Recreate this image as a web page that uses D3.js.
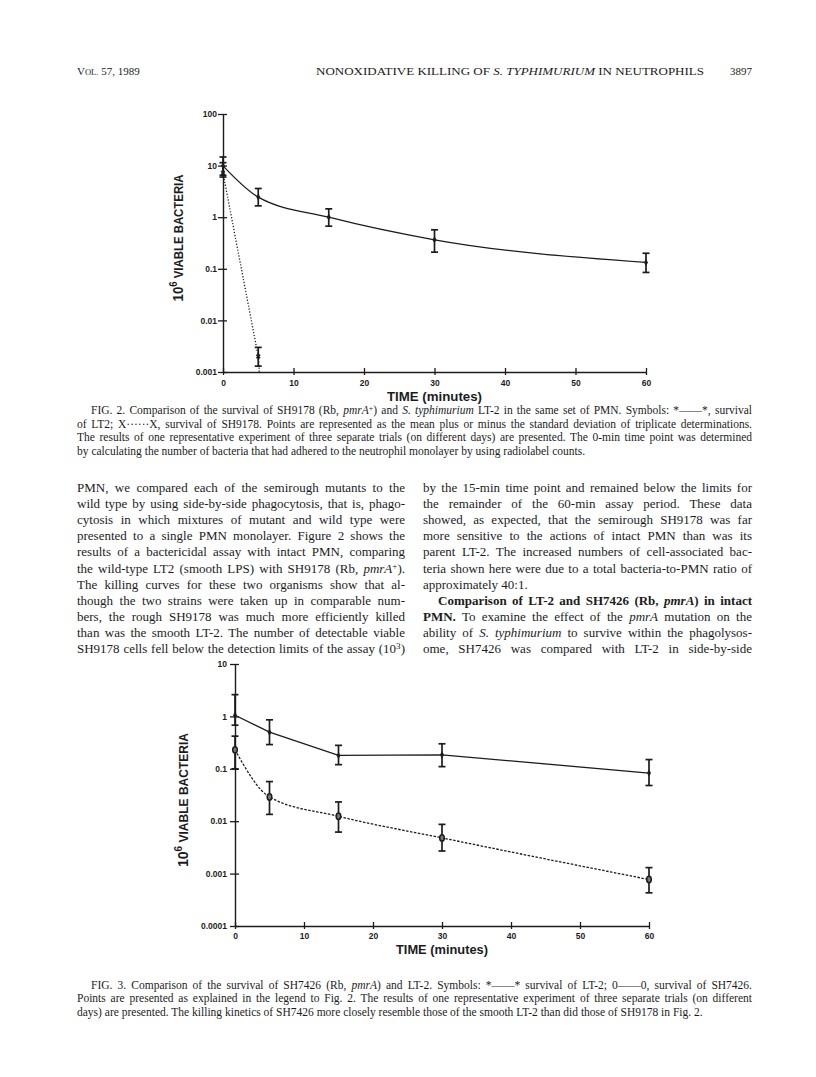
<!DOCTYPE html>
<html>
<head>
<meta charset="utf-8">
<script src="https://cdn.jsdelivr.net/npm/d3@7"></script>
<style>
  body { margin: 0; background: #fff; }
  svg { display: block; }
</style>
</head>
<body>
<script>
// ---- data ----
var timeTicks = [0, 10, 20, 30, 40, 50, 60];

// Fig. 2: LT2 (solid) and SH9178 (dotted)
var fig2YTicks = [0.001, 0.01, 0.1, 1, 10, 100];
var fig2YLabels = ["0.001", "0.01", "0.1", "1", "10", "100"];
var fig2Time = [0, 5, 15, 30, 60];
var fig2Lt2Mean = [9.9, 2.45, 1.0, 0.365, 0.133];
var fig2Lt2Upper = [14.7, 3.6, 1.45, 0.57, 0.2];
var fig2Lt2Lower = [6.5, 1.66, 0.67, 0.21, 0.085];
var fig2ShTime = [0, 5];
var fig2ShMean = [7.2, 0.002];
var fig2ShUpper = [11.4, 0.003];
var fig2ShLower = [6.0, 0.0013];
// the dotted line runs on past the 5-min point down to the detection limit
var fig2ShLineTime = [0, 5, 5.15];
var fig2ShLineValue = [7.2, 0.002, 0.001];

// Fig. 3: LT-2 (solid) and SH7426 (dashed)
var fig3YTicks = [0.0001, 0.001, 0.01, 0.1, 1, 10];
var fig3YLabels = ["0.0001", "0.001", "0.01", "0.1", "1", "10"];
var fig3Time = [0, 5, 15, 30, 60];
var fig3Lt2Mean = [1.05, 0.5, 0.18, 0.185, 0.083];
var fig3Lt2Upper = [2.6, 0.86, 0.28, 0.3, 0.15];
var fig3Lt2Lower = [0.68, 0.29, 0.12, 0.11, 0.048];
var fig3ShMean = [0.23, 0.029, 0.0124, 0.0048, 0.00077];
var fig3ShUpper = [0.42, 0.057, 0.0233, 0.0087, 0.0013];
var fig3ShLower = [0.1, 0.0135, 0.0062, 0.0027, 0.00043];

// ---- page text ----
var fig2Caption = [
  "FIG. 2. Comparison of the survival of SH9178 (Rb, _pmrA_^+^) and _S. typhimurium_ LT-2 in the same set of PMN. Symbols: *——*, survival",
  "of LT2; X······X, survival of SH9178. Points are represented as the mean plus or minus the standard deviation of triplicate determinations.",
  "The results of one representative experiment of three separate trials (on different days) are presented. The 0-min time point was determined",
  "by calculating the number of bacteria that had adhered to the neutrophil monolayer by using radiolabel counts."
];
var leftColumn = [
  "PMN, we compared each of the semirough mutants to the",
  "wild type by using side-by-side phagocytosis, that is, phago-",
  "cytosis in which mixtures of mutant and wild type were",
  "presented to a single PMN monolayer. Figure 2 shows the",
  "results of a bactericidal assay with intact PMN, comparing",
  "the wild-type LT2 (smooth LPS) with SH9178 (Rb, _pmrA_^+^).",
  "The killing curves for these two organisms show that al-",
  "though the two strains were taken up in comparable num-",
  "bers, the rough SH9178 was much more efficiently killed",
  "than was the smooth LT-2. The number of detectable viable",
  "SH9178 cells fell below the detection limits of the assay (10^3^)"
];
var rightColumn = [
  "by the 15-min time point and remained below the limits for",
  "the remainder of the 60-min assay period. These data",
  "showed, as expected, that the semirough SH9178 was far",
  "more sensitive to the actions of intact PMN than was its",
  "parent LT-2. The increased numbers of cell-associated bac-",
  "teria shown here were due to a total bacteria-to-PMN ratio of",
  "approximately 40:1.",
  "~Comparison of LT-2 and SH7426 (Rb, ~=pmrA=~) in intact~",
  "~PMN.~ To examine the effect of the _pmrA_ mutation on the",
  "ability of _S. typhimurium_ to survive within the phagolysos-",
  "ome, SH7426 was compared with LT-2 in side-by-side"
];
var fig3Caption = [
  "FIG. 3. Comparison of the survival of SH7426 (Rb, _pmrA_) and LT-2. Symbols: *——* survival of LT-2; 0——0, survival of SH7426.",
  "Points are presented as explained in the legend to Fig. 2. The results of one representative experiment of three separate trials (on different",
  "days) are presented. The killing kinetics of SH7426 more closely resemble those of the smooth LT-2 than did those of SH9178 in Fig. 2."
];

var serif = "'Liberation Serif', 'Times New Roman', serif";
var sans = "'Liberation Sans', Arial, sans-serif";
var ink = "#1c1c1c";

var svg = d3.select("body")
  .append("svg")
  .attr("width", 816)
  .attr("height", 1077);

svg.append("rect").attr("width", 816).attr("height", 1077).attr("fill", "#fff");

// split a line with _italic_, ~bold~, =bold italic= and ^sup^ marks into tspans
function addRichText(text, str) {
  var parts = str.split(/(_[^_]+_|~[^~]+~|=[^=]+=|\^[^\^]+\^)/);
  var raised = false;
  parts.forEach(function(p) {
    if (p === "") return;
    var span = text.append("tspan");
    var body = p;
    if (p[0] === "_" && p.length > 1) { body = p.slice(1, -1); span.style("font-style", "italic"); }
    else if (p[0] === "~" && p.length > 1) { body = p.slice(1, -1); span.style("font-weight", "bold"); }
    else if (p[0] === "=" && p.length > 1) { body = p.slice(1, -1); span.style("font-weight", "bold").style("font-style", "italic"); }
    else if (p[0] === "^" && p.length > 1) {
      body = p.slice(1, -1);
      span.style("font-size", "0.7em").attr("dy", "-0.4em");
      raised = true;
      span.text(body);
      return;
    }
    if (raised) { span.attr("dy", "0.28em"); raised = false; }
    span.text(body);
  });
}

// one line of justified (or left set) text
function textLine(str, x, y, width, size, justify) {
  var t = svg.append("text")
    .attr("x", x)
    .attr("y", y)
    .attr("fill", ink)
    .style("font-family", serif)
    .style("font-size", size + "px");
  addRichText(t, str);
  var plain = str.replace(/[_~=\^]/g, "");
  var natural = t.node().getComputedTextLength();
  var spaces = (plain.match(/ /g) || []).length;
  if (natural > width) {
    t.attr("textLength", width).attr("lengthAdjust", "spacingAndGlyphs");
  } else if (justify && spaces > 0) {
    t.style("word-spacing", ((width - natural) / spaces) + "px");
  }
  return t;
}

// running head
var head = svg.append("text")
  .attr("x", 77).attr("y", 75)
  .attr("fill", ink)
  .style("font-family", serif).style("font-size", "11px");
head.append("tspan").text("V");
head.append("tspan").style("font-size", "8.5px").text("OL.");
head.append("tspan").text(" 57, 1989");

var title = svg.append("text")
  .attr("x", 316).attr("y", 75)
  .attr("fill", ink)
  .attr("textLength", 388).attr("lengthAdjust", "spacingAndGlyphs")
  .style("font-family", serif).style("font-size", "11px");
addRichText(title, "NONOXIDATIVE KILLING OF _S. TYPHIMURIUM_ IN NEUTROPHILS");

svg.append("text")
  .attr("x", 752).attr("y", 75)
  .attr("text-anchor", "end")
  .attr("fill", ink)
  .style("font-family", serif).style("font-size", "11px")
  .text("3897");

// captions and body columns
fig2Caption.forEach(function(line, i) {
  var indent = i === 0 ? 14 : 0;
  textLine(line, 77 + indent, 414 + i * 13.5, 675 - indent, 11.5, i < fig2Caption.length - 1);
});
leftColumn.forEach(function(line, i) {
  textLine(line, 77, 492 + i * 16.1, 328, 13, true);
});
rightColumn.forEach(function(line, i) {
  var indent = i === 7 ? 15 : 0;
  textLine(line, 423 + indent, 492 + i * 16.1, 329 - indent, 13, i !== 6);
});
fig3Caption.forEach(function(line, i) {
  var indent = i === 0 ? 14 : 0;
  textLine(line, 77 + indent, 988.5 + i * 13.6, 675 - indent, 11.5, i < fig3Caption.length - 1);
});

// ---- chart helpers ----
function drawAxes(x, y, yTicks, yLabels, opts) {
  var x0 = x.range()[0];
  var y0 = y.range()[0];

  var xAxis = svg.append("g")
    .attr("transform", `translate(0, ${y0})`)
    .call(d3.axisBottom(x).tickValues(timeTicks).tickSize(3).tickSizeOuter(0));
  xAxis.selectAll(".tick line").attr("y1", -4).attr("stroke-width", 1.3);
  xAxis.selectAll(".tick text")
    .attr("y", opts.xLabelY).attr("dy", null)
    .style("font-family", sans).style("font-weight", "bold").style("font-size", opts.tickSize + "px");

  var yAxis = svg.append("g")
    .attr("transform", `translate(${x0}, 0)`)
    .call(d3.axisLeft(y).tickValues(yTicks).tickFormat((d, i) => yLabels[i]).tickSize(5).tickSizeOuter(0));
  yAxis.selectAll(".tick line").attr("x1", 4).attr("stroke-width", 1.3);
  yAxis.selectAll(".tick text")
    .attr("x", opts.yLabelX)
    .style("font-family", sans).style("font-weight", "bold").style("font-size", opts.tickSize + "px");

  [xAxis, yAxis].forEach(function(a) {
    a.attr("color", ink);
    a.select(".domain").attr("stroke-width", 1.4);
  });

  // axis titles
  svg.append("text")
    .attr("x", opts.timeX).attr("y", opts.timeY)
    .attr("text-anchor", "middle")
    .attr("textLength", opts.timeLen).attr("lengthAdjust", "spacingAndGlyphs")
    .attr("fill", ink)
    .style("font-family", sans).style("font-weight", "bold").style("font-size", opts.timeSize + "px")
    .text("TIME (minutes)");

  var yt = svg.append("text")
    .attr("transform", `translate(${opts.labelX}, ${opts.labelY}) rotate(-90)`)
    .attr("text-anchor", "middle")
    .attr("textLength", opts.labelLen).attr("lengthAdjust", "spacingAndGlyphs")
    .attr("fill", ink)
    .style("font-family", sans).style("font-weight", "bold").style("font-size", "12px");
  yt.append("tspan").style("font-size", "14px").text("10");
  yt.append("tspan").attr("dy", -6).style("font-size", "10px").text("6");
  yt.append("tspan").attr("dy", 6).text(" VIABLE BACTERIA");
}

function drawLine(x, y, time, values, dash, curve) {
  var line = d3.line()
    .x((d, i) => x(time[i]))
    .y(d => y(d))
    .curve(curve);
  svg.append("path")
    .datum(values)
    .attr("d", line)
    .attr("fill", "none")
    .attr("stroke", ink)
    .attr("stroke-width", 1.3)
    .attr("stroke-dasharray", dash);
}

function drawErrorBars(x, y, time, upper, lower) {
  var g = svg.append("g").attr("stroke", ink).attr("stroke-width", 1.7);
  time.forEach(function(t, i) {
    var cx = x(t);
    g.append("line").attr("x1", cx).attr("x2", cx).attr("y1", y(upper[i])).attr("y2", y(lower[i]));
    g.append("line").attr("x1", cx - 3.5).attr("x2", cx + 3.5).attr("y1", y(upper[i])).attr("y2", y(upper[i]));
    g.append("line").attr("x1", cx - 3.5).attr("x2", cx + 3.5).attr("y1", y(lower[i])).attr("y2", y(lower[i]));
  });
}

function drawMarkers(x, y, time, values, kind) {
  var g = svg.append("g");
  time.forEach(function(t, i) {
    var cx = x(t), cy = y(values[i]);
    if (kind === "star") {
      g.append("path")
        .attr("transform", `translate(${cx},${cy})`)
        .attr("d", d3.symbol().type(d3.symbolDiamond).size(14)())
        .attr("fill", ink);
    } else if (kind === "x") {
      g.append("path")
        .attr("transform", `translate(${cx},${cy}) rotate(45)`)
        .attr("d", d3.symbol().type(d3.symbolCross).size(14)())
        .attr("fill", ink);
    } else {
      g.append("ellipse")
        .attr("cx", cx).attr("cy", cy)
        .attr("rx", 2.3).attr("ry", 3.2)
        .attr("fill", "#777")
        .attr("stroke", ink).attr("stroke-width", 1.5);
    }
  });
}

// ---- Fig. 2 ----
var fig2X = d3.scaleLinear().domain([0, 60]).range([223, 646]);
var fig2Y = d3.scaleLog().domain([0.001, 100]).range([372, 114]);

drawAxes(fig2X, fig2Y, fig2YTicks, fig2YLabels, {
  xLabelY: 14, yLabelX: -6, tickSize: 8.5,
  timeX: 434.5, timeY: 401, timeLen: 95, timeSize: 12.5,
  labelX: 183, labelY: 238, labelLen: 127
});
drawLine(fig2X, fig2Y, fig2Time, fig2Lt2Mean, null, d3.curveMonotoneX);
drawLine(fig2X, fig2Y, fig2ShLineTime, fig2ShLineValue, "1.2,1.8", d3.curveLinear);
drawErrorBars(fig2X, fig2Y, fig2Time, fig2Lt2Upper, fig2Lt2Lower);
drawErrorBars(fig2X, fig2Y, fig2ShTime, fig2ShUpper, fig2ShLower);
drawMarkers(fig2X, fig2Y, fig2Time, fig2Lt2Mean, "star");
drawMarkers(fig2X, fig2Y, fig2ShTime, fig2ShMean, "x");

// ---- Fig. 3 ----
var fig3X = d3.scaleLinear().domain([0, 60]).range([235, 649]);
var fig3Y = d3.scaleLog().domain([0.0001, 10]).range([926, 664]);

drawAxes(fig3X, fig3Y, fig3YTicks, fig3YLabels, {
  xLabelY: 13, yLabelX: -8, tickSize: 8.5,
  timeX: 442, timeY: 953.5, timeLen: 92, timeSize: 13,
  labelX: 187.5, labelY: 800, labelLen: 134
});
drawLine(fig3X, fig3Y, fig3Time, fig3Lt2Mean, null, d3.curveLinear);
drawLine(fig3X, fig3Y, fig3Time, fig3ShMean, "2.5,1.5", d3.curveMonotoneX);
drawErrorBars(fig3X, fig3Y, fig3Time, fig3Lt2Upper, fig3Lt2Lower);
drawErrorBars(fig3X, fig3Y, fig3Time, fig3ShUpper, fig3ShLower);
drawMarkers(fig3X, fig3Y, fig3Time, fig3Lt2Mean, "star");
drawMarkers(fig3X, fig3Y, fig3Time, fig3ShMean, "o");
</script>
</body>
</html>
